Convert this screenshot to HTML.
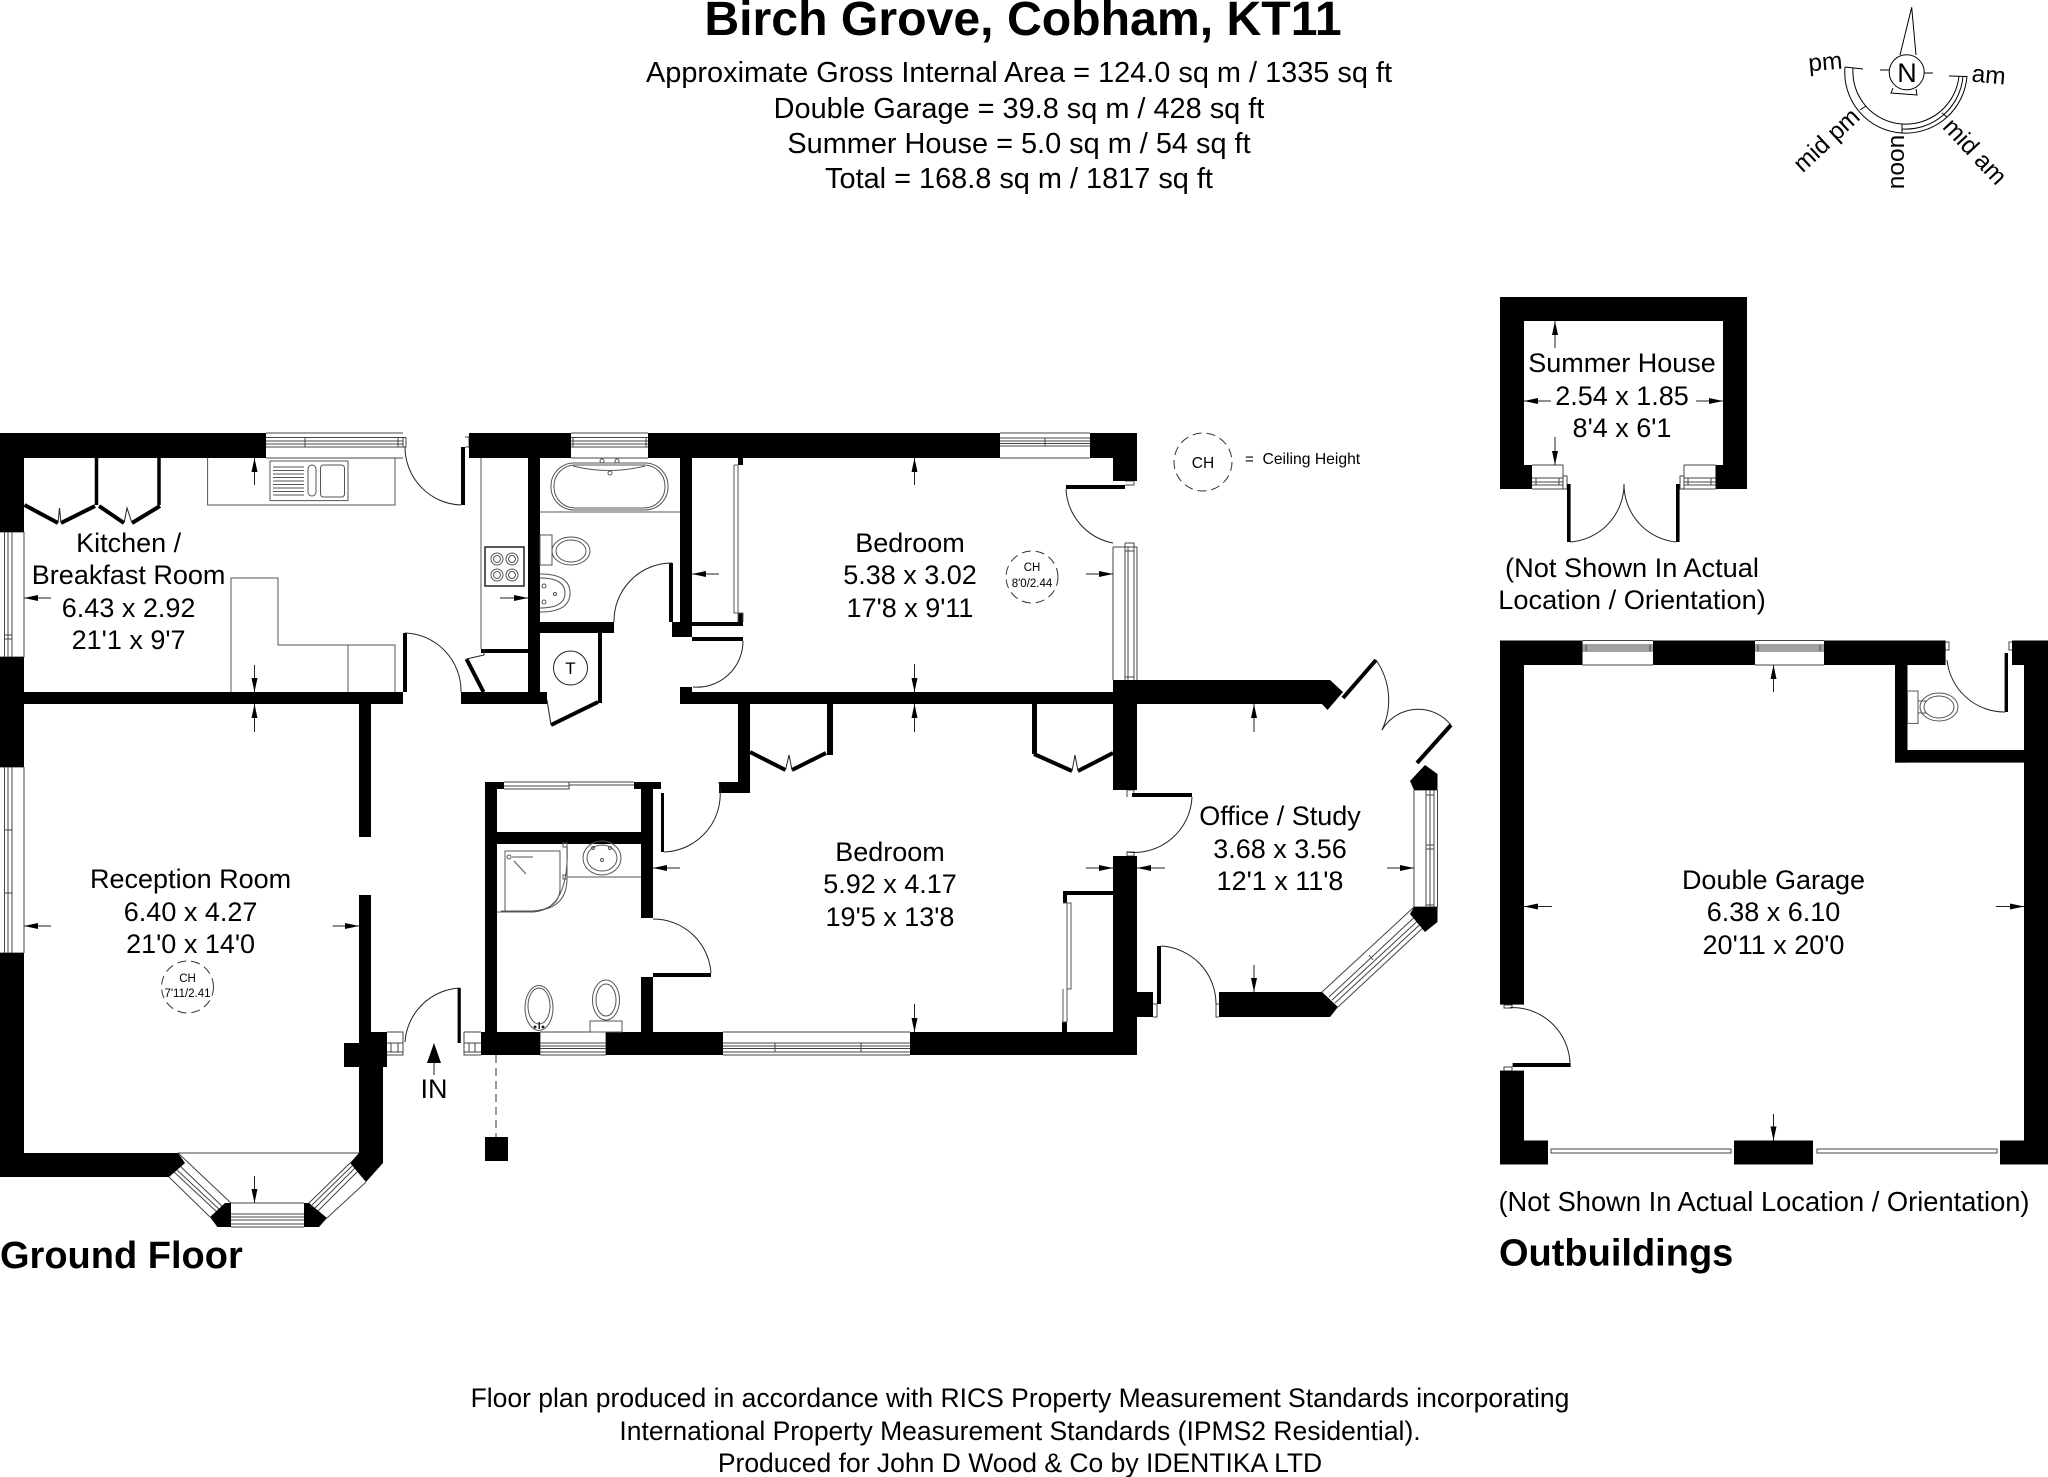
<!DOCTYPE html>
<html lang="en"><head><meta charset="utf-8"><title>Birch Grove, Cobham, KT11</title>
<style>
html,body{margin:0;padding:0;background:#fff}
svg{display:block}
text{font-family:"Liberation Sans",sans-serif;fill:#000}
.m{text-anchor:middle}
.r{font-size:27px;text-anchor:middle}
.f{fill:none;stroke:#444;stroke-width:1}
.t{fill:none;stroke:#000;stroke-width:1}
.l{stroke:#000;stroke-width:4;fill:none}
.a{stroke:#222;stroke-width:1;fill:none}
.w{fill:#fff;stroke:#555;stroke-width:1}
</style></head><body>
<svg width="2048" height="1477" viewBox="0 0 2048 1477" xmlns="http://www.w3.org/2000/svg">
<defs>
<marker id="h" viewBox="0 0 14 6" refX="14" refY="3" markerWidth="14" markerHeight="6" markerUnits="userSpaceOnUse" orient="auto"><path d="M0 0L14 3L0 6Z" fill="#000"/></marker>
</defs>
<rect width="2048" height="1477" fill="#fff"/>

<!-- heading -->
<text class="m" x="1023" y="35" font-size="48.200" font-weight="700">Birch Grove, Cobham, KT11</text>
<text class="m" x="1019" y="82" font-size="28.900">Approximate Gross Internal Area = 124.0 sq m / 1335 sq ft</text>
<text class="m" x="1019" y="118" font-size="28.900">Double Garage = 39.8 sq m / 428 sq ft</text>
<text class="m" x="1019" y="153" font-size="28.900">Summer House = 5.0 sq m / 54 sq ft</text>
<text class="m" x="1019" y="188" font-size="28.900">Total = 168.8 sq m / 1817 sq ft</text>

<!-- compass -->
<g class="t" stroke-width="1">
<path d="M1900 55L1911.7 7.3L1916 55"/>
<circle cx="1906.7" cy="72.3" r="17.5"/>
<path d="M1880 70H1889M1924 73H1933M1893 88L1891 93L1917 95L1916 89"/>
<path d="M1845 67A60.7 60.7 0 0 0 1902 133M1853 68A52.5 52.5 0 0 0 1902 124"/>
<path d="M1967 76A61.5 61.5 0 0 1 1902 133M1963 76A57.5 57.5 0 0 1 1902 129M1959 76A53.5 53.5 0 0 1 1902 124"/>
<path d="M1845 67L1863 69M1949 76L1967 76.500M1860 110L1866 106M1942 113L1947 117M1902 124V133"/>
</g>
<text x="1809" y="70" font-size="24.500" transform="rotate(-5 1825 70)">pm</text>
<text x="1971" y="83" font-size="24.500" transform="rotate(5 1988 83)">am</text>
<text class="m" x="1832" y="146" font-size="24.500" transform="rotate(-43 1832 146)">mid pm</text>
<text class="m" x="1904" y="162" font-size="24.500" transform="rotate(-90 1904 162)">noon</text>
<text class="m" x="1969" y="157" font-size="24.500" transform="rotate(47 1969 157)">mid am</text>
<text class="m" x="1907" y="82" font-size="27">N</text>

<!-- WINDOWS (under walls) -->
<g class="f">
<path d="M266 433H403M266 437.500H403M266 441H403M266 444H403M266 447H403M266 458H403M305 437.500V447M398 437V447M403 437.500H406V447H403"/>
<path d="M571 433H648M571 437.500H648M571 441H648M571 444H648M571 447H648M571 458H648M573 437.500V447M646 437.500V447"/>
<path d="M1000 433H1090M1000 438H1090M1000 441H1090M1000 443.500H1090M1000 446H1090M1000 458H1090M1045 438V446"/>
<path d="M540 1032H606M540 1043H606M540 1046H606M540 1048.500H606M540 1052H606M540 1055H606M540 1032V1055M606 1032V1055"/>
<path d="M723 1032H910M723 1043H910M723 1046H910M723 1048.500H910M723 1052H910M723 1055H910M775 1043V1052M861 1043V1052"/>
<path d="M231 1203H304M231 1214H304M231 1217H304M231 1220H304M231 1224H304M231 1227H304"/>
<path d="M0 532H24V657H0M4.500 532V657M8 532V657M12 532V657M4.500 635H12M4.500 639H12"/>
<path d="M24 767V953M0 767H24M0 953H24M4.500 767V953M8 767V953M12 767V953M4.500 830H12M4.500 893H12"/>
<path d="M1113 547V680M1125 547V680M1128 547V680M1134 547V680M1137 547V680M1125 547H1137M1113 547H1125M1125 551H1134M1125 677H1134M1125 543H1134V547M1125 543V547"/>
<path d="M1414 790V907M1426 790V907M1430 790V907M1434 790V907M1437.500 790V907M1414 790H1437.500M1414 907H1437.500M1426 905H1434M1426 795H1434M1426 845H1434M1426 849H1434"/>
<path d="M178 1153L231 1203M169 1177L210 1217M173 1171L218 1213M176 1169L221 1211M180 1166L224 1208"/>
<path d="M178 1153H359M350 1163L309 1203M366 1182L327 1218M358 1171L318 1211M355 1168L315 1208M352 1166L312 1205"/>
<path d="M1322 992L1414 907M1338 1007L1426 925M1332 1000L1424 915M1329 997L1420 912M1335 1003L1427 918M1369 955L1373 960"/>
<path d="M387 1032H403V1055H387M387 1043H403M387 1052H403M391 1043V1052M398 1043V1052"/>
<path d="M464 1032H481M464 1032V1055H481M464 1043H481M464 1052H481M469 1043V1052M475 1043V1052"/>
<path d="M504 782H634M504 789H569V785H634M504 786H569M569 782V789"/>
<path d="M1582.500 640.500H1653M1582.500 645H1653M1582.500 647H1653M1582.500 649H1653M1582.500 651H1653M1582.500 665H1653M1586 645V651M1650 645V651"/>
<path d="M1755 640.500H1824M1755 645H1824M1755 647H1824M1755 649H1824M1755 651H1824M1755 665H1824M1758 645V651M1820 645V651"/>
<path d="M1532 465H1563V489H1532M1532 478H1563M1532 482H1563M1532 485H1563M1536 478V485M1559 478V485M1563 476H1567V489H1563"/>
<path d="M1684 465H1715.500M1684 465V489H1715.500M1684 478H1715.500M1684 482H1715.500M1684 485H1715.500M1688 478V485M1711 478V485M1684 476H1680V489H1684"/>
<path d="M403 437V447M465 437H469V447H465"/>
</g>
<g fill="none" stroke="#444" stroke-width="1">
<path d="M1551 1149H1731V1153H1551ZM1817 1149H1997V1153H1817Z"/>
<path d="M1945.600 642H1949V650H1945.600M2012 642H2009V650H2012"/>
<path d="M1504 1005H1512V1008H1504ZM1504 1067H1512V1071H1504Z"/>
<path d="M1125 481H1134V485H1125M1127 790H1134V797M1127 790V797M1127 852H1134V856H1127Z"/>
<path d="M1153 1004H1157V1017H1153M1219 1004H1216V1017H1219"/>
</g>

<!-- WALLS -->
<g fill="#000">
<rect x="0" y="433" width="266" height="25"/><rect x="469" y="433" width="102" height="25"/><rect x="648" y="433" width="352" height="25"/><rect x="1090" y="433" width="47" height="25"/><rect x="1113" y="458" width="24" height="23"/>
<rect x="0" y="458" width="24" height="74"/><rect x="0" y="657" width="24" height="110"/><rect x="0" y="953" width="24" height="224"/>
<rect x="0" y="692" width="403" height="12"/>
<rect x="359" y="704" width="12" height="133"/><rect x="359" y="895" width="12" height="137"/><rect x="359" y="1032" width="28" height="11"/><rect x="344" y="1043" width="43" height="24"/><rect x="359" y="1067" width="24" height="96"/>
<polygon points="0,1153 178,1153 185,1163 169,1177 0,1177"/>
<polygon points="225,1203 231,1203 231,1227 217.400,1227 210,1217"/>
<polygon points="304,1203 309,1203 327,1218 319,1227 304,1227"/>
<polygon points="350,1163 359,1153 371,1153 383,1153 383,1163 366,1182"/>
<rect x="461" y="692" width="86" height="12"/><rect x="528" y="458" width="12" height="234"/><rect x="540" y="622" width="74" height="11"/><rect x="598" y="633" width="4" height="70"/>
<rect x="680" y="458" width="12" height="179"/><rect x="672" y="622" width="8" height="15"/><rect x="669" y="563" width="4" height="59"/>
<rect x="692" y="622" width="51" height="4"/><rect x="738" y="458" width="5" height="7"/><rect x="738" y="613" width="5" height="9"/><rect x="692" y="637" width="51" height="4"/>
<rect x="680" y="687" width="12" height="5"/><rect x="680" y="692" width="433" height="12"/>
<polygon points="1113,680 1330,680 1343,692 1327.500,710 1322,704 1113,704"/>
<rect x="1113" y="704" width="24" height="86"/>
<rect x="738" y="704" width="12" height="78"/><rect x="719" y="782" width="31" height="11"/><rect x="827" y="704" width="6" height="51"/><rect x="1032" y="704" width="5" height="50"/>
<rect x="485" y="782" width="12" height="250"/><rect x="485" y="782" width="19" height="7"/><rect x="634" y="782" width="27" height="7"/><rect x="641" y="789" width="12" height="129"/><rect x="497" y="832" width="144" height="12"/><rect x="641" y="977" width="12" height="55"/><rect x="653" y="973" width="58" height="4"/><rect x="661" y="793" width="3" height="59"/>
<rect x="481" y="1032" width="59" height="23"/><rect x="606" y="1032" width="117" height="23"/><rect x="910" y="1032" width="227" height="23"/>
<rect x="1113" y="856" width="24" height="176"/><rect x="1137" y="992" width="16" height="25"/><rect x="1157" y="946" width="4" height="58"/>
<polygon points="1219,992 1322,992 1338,1007 1330,1017 1219,1017"/>
<polygon points="1414,907 1437.500,907 1437.500,922 1425,932 1410,914"/>
<polygon points="1425,765 1437.500,774 1437.500,790 1414,790 1410,781"/>
<rect x="1066" y="485" width="59" height="4"/><rect x="1132" y="793" width="60" height="4"/>
<rect x="1063" y="891" width="50" height="4"/><rect x="1063" y="891" width="4" height="12"/><rect x="1062" y="1022" width="5" height="10"/>
<rect x="481" y="649" width="47" height="4"/><rect x="461" y="447" width="4" height="58"/><rect x="403" y="633" width="4" height="59"/>
<rect x="457.600" y="988" width="3.200" height="55"/>
<rect x="485" y="1137" width="23" height="24"/>
<!-- summer house -->
<path d="M1500 297H1747V489H1715.500V465H1723V321H1524V465H1532V489H1500Z"/>
<rect x="1567" y="484" width="3.600" height="58"/><rect x="1676" y="484" width="3.600" height="58"/>
<!-- garage -->
<rect x="1500" y="640.500" width="82.500" height="24.500"/><rect x="1653" y="640.500" width="102" height="24.500"/><rect x="1824" y="640.500" width="121.600" height="24.500"/><rect x="2012" y="640.500" width="36" height="24.500"/>
<rect x="2024" y="665" width="24" height="499.500"/><rect x="1500" y="665" width="24" height="339.600"/><rect x="1500" y="1070.600" width="24" height="70"/>
<rect x="1500" y="1140.500" width="48" height="24"/><rect x="1734" y="1140.500" width="79" height="24"/><rect x="2000" y="1140.500" width="48" height="24"/>
<rect x="1895" y="665" width="12.500" height="97.600"/><rect x="1895" y="750" width="129" height="12.600"/>
<rect x="2004.600" y="653" width="3.400" height="59"/><rect x="1512.600" y="1063" width="58" height="4"/>
</g>

<!-- DOOR LEAVES thick -->
<g class="l">
<path d="M24.500 505L58 523M61 523L95 506M99 506L124 523M132 523L160 506"/>
<path d="M96.500 458V505M159 458V505" stroke-width="3.500"/>
<path d="M466.500 659L483.500 692M551 725L598 702M750 752L785.500 770M792 770L826 753M1034 754L1072 771M1078 771L1113 753M1343 698L1376 660M1417 763L1451 725"/>
</g>
<!-- door arcs -->
<g class="a">
<path d="M405 447A58 58 0 0 0 461 505"/><path d="M405 633A58 58 0 0 1 461 692"/>
<path d="M672 563A58 58 0 0 0 614 622"/><path d="M743 641A46 46 0 0 1 693 687"/>
<path d="M1066 489A58 58 0 0 0 1113 543"/><path d="M1192 797A58 58 0 0 1 1127 852"/>
<path d="M664 852A58 58 0 0 0 719 782"/><path d="M653 919A58 58 0 0 1 711 973"/>
<path d="M460 988A58 58 0 0 0 405 1042"/><path d="M1161 946A58 58 0 0 1 1216 1004"/>
<path d="M1376 660A70 70 0 0 1 1382 730"/><path d="M1451 725A42 42 0 0 0 1382 730"/>
<path d="M1570 542A58 58 0 0 0 1624 484"/><path d="M1676 542A58 58 0 0 1 1624 484"/>
<path d="M2005 712A58 58 0 0 1 1947 660"/><path d="M1570 1063A58 58 0 0 0 1510 1007.500"/>
<path d="M547 700L551 725M466.500 659L484 655L484 649"/>
<path d="M58 523L59.500 508L61 523M124 523L127 508L132 523"/>
<path d="M785.500 770L789 755L792 770M1072 771L1075 755L1078 771"/>
</g>

<!-- FIXTURES -->
<g fill="none" stroke="#555" stroke-width="1">
<path d="M207.600 458V505H395V458"/>
<rect x="270" y="461" width="78" height="39.600"/>
<path d="M273 467H304M273 470.500H304M273 474H304M273 477.500H304M273 481H304M273 484.500H304M273 488H304M273 491.500H304M273 495H304"/>
<rect x="308" y="465" width="8" height="31" rx="4"/><rect x="320.500" y="465" width="24" height="32" rx="3"/>
<path d="M481 458V649"/>
<rect x="485" y="547" width="39" height="39" stroke-width="1.500" stroke="#222"/>
<circle cx="497" cy="559" r="6"/><circle cx="512" cy="559" r="6"/><circle cx="497" cy="575" r="6"/><circle cx="512" cy="575" r="6"/>
<circle cx="497" cy="559" r="3.500"/><circle cx="512" cy="559" r="3.500"/><circle cx="497" cy="575" r="3.500"/><circle cx="512" cy="575" r="3.500"/>
<path d="M231 692V578H278V645H395V692M348 645V692"/>
<path d="M540 512H680"/>
<rect x="551" y="463" width="117" height="47" rx="23"/><rect x="554" y="465" width="111" height="43" rx="21"/>
<path d="M573 466Q609 475 645 466"/><circle cx="602" cy="461" r="2"/><circle cx="617" cy="461" r="2"/><circle cx="610" cy="473" r="2"/>
<rect x="540" y="535" width="12" height="30"/>
<ellipse cx="571" cy="551" rx="19" ry="14"/><ellipse cx="571" cy="551" rx="15" ry="11"/>
<path d="M540 574Q570 574 570 593Q570 612 540 612"/><path d="M540 578Q565 578 565 593Q565 608 540 608"/>
<circle cx="544" cy="586" r="2"/><circle cx="544" cy="602" r="2"/><circle cx="555" cy="594" r="1.500"/>
<path d="M505 851H560V890Q558 912 525 911H505ZM501 911H532Q566 910 567 880V844M497 912H533Q570 910 567 844"/>
<circle cx="509" cy="857" r="2"/><path d="M512 857H533M514 861L526 874"/>
<ellipse cx="602" cy="858" rx="19" ry="17"/><ellipse cx="602" cy="858" rx="15" ry="13"/><circle cx="593" cy="848" r="1.500"/><circle cx="610" cy="848" r="1.500"/><circle cx="602" cy="860" r="1.500"/>
<path d="M567 877H641"/><rect x="563" y="843" width="4" height="4"/><rect x="563" y="875" width="4" height="4"/>
<ellipse cx="539" cy="1008" rx="14" ry="22.500"/><ellipse cx="539" cy="1006" rx="11" ry="18"/>
<ellipse cx="606" cy="1000" rx="13.500" ry="20"/><ellipse cx="606" cy="1000" rx="10" ry="16"/>
<rect x="590" y="1021" width="32" height="11"/>
<path d="M734 465H738V613M734 465V613H738M738 613H743V622M738 613V622"/>
<path d="M1067 903H1071V989H1067V1022M1063 903H1067V989M1063 989V1022H1067"/>
<rect x="1907.500" y="691" width="10.500" height="32.400"/>
<ellipse cx="1939" cy="707" rx="19" ry="14"/><ellipse cx="1939" cy="707" rx="15" ry="11"/>
<path d="M1918 701H1926M1918 713H1926"/>
</g>
<circle cx="570.500" cy="668" r="17" fill="none" stroke="#222"/>
<text class="m" x="570.500" y="674" font-size="17">T</text>
<g fill="#222"><circle cx="535" cy="1027" r="1.500"/><circle cx="543" cy="1027" r="1.500"/><rect x="538.500" y="1022" width="1.500" height="7"/></g>

<!-- ARROWS -->
<g class="a">
<line x1="254.500" y1="485" x2="254.500" y2="458" marker-end="url(#h)"/>
<line x1="254.500" y1="665" x2="254.500" y2="692" marker-end="url(#h)"/>
<line x1="254.500" y1="732" x2="254.500" y2="704" marker-end="url(#h)"/>
<line x1="51" y1="598" x2="24" y2="598" marker-end="url(#h)"/>
<line x1="500" y1="598" x2="528" y2="598" marker-end="url(#h)"/>
<line x1="914.500" y1="485" x2="914.500" y2="458" marker-end="url(#h)"/>
<line x1="914.500" y1="664" x2="914.500" y2="692" marker-end="url(#h)"/>
<line x1="914.500" y1="732" x2="914.500" y2="704" marker-end="url(#h)"/>
<line x1="719" y1="574" x2="692" y2="574" marker-end="url(#h)"/>
<line x1="1086" y1="574" x2="1113" y2="574" marker-end="url(#h)"/>
<line x1="1254" y1="732" x2="1254" y2="704" marker-end="url(#h)"/>
<line x1="51" y1="926" x2="24" y2="926" marker-end="url(#h)"/>
<line x1="332.600" y1="926" x2="359" y2="926" marker-end="url(#h)"/>
<line x1="254.500" y1="1176" x2="254.500" y2="1203" marker-end="url(#h)"/>
<line x1="680" y1="868" x2="653" y2="868" marker-end="url(#h)"/>
<line x1="1086" y1="868" x2="1113" y2="868" marker-end="url(#h)"/>
<line x1="914.500" y1="1004" x2="914.500" y2="1032" marker-end="url(#h)"/>
<line x1="1165" y1="868" x2="1137" y2="868" marker-end="url(#h)"/>
<line x1="1387" y1="868" x2="1414" y2="868" marker-end="url(#h)"/>
<line x1="1254" y1="965" x2="1254" y2="992" marker-end="url(#h)"/>
<line x1="1555" y1="348" x2="1555" y2="321" marker-end="url(#h)"/>
<line x1="1555" y1="437" x2="1555" y2="465" marker-end="url(#h)"/>
<line x1="1551" y1="401" x2="1524" y2="401" marker-end="url(#h)"/>
<line x1="1696" y1="401" x2="1723" y2="401" marker-end="url(#h)"/>
<line x1="1773.500" y1="692" x2="1773.500" y2="665" marker-end="url(#h)"/>
<line x1="1552" y1="906.500" x2="1524" y2="906.500" marker-end="url(#h)"/>
<line x1="1996" y1="906.500" x2="2024" y2="906.500" marker-end="url(#h)"/>
<line x1="1773.500" y1="1114" x2="1773.500" y2="1140.500" marker-end="url(#h)"/>
</g>
<!-- IN arrow -->
<path d="M434 1043L441 1063H427Z" fill="#000"/><path d="M434 1063V1075" stroke="#222" fill="none"/>
<text class="m" x="434" y="1098" font-size="27">IN</text>
<!-- pipe -->
<path d="M496 1055V1137" stroke="#333" stroke-dasharray="8 5" fill="none"/>

<!-- CH circles -->
<g fill="none" stroke="#333" stroke-dasharray="9 5">
<circle cx="187.500" cy="987" r="26"/><circle cx="1032" cy="577" r="26"/><circle cx="1203" cy="462" r="29"/>
</g>
<text class="m" x="187.500" y="982" font-size="11.500">CH</text><text class="m" x="187.500" y="997" font-size="11.500">7'11/2.41</text>
<text class="m" x="1032" y="571" font-size="11.500">CH</text><text class="m" x="1032" y="587" font-size="11.500">8'0/2.44</text>
<text class="m" x="1203" y="468" font-size="15.500">CH</text>
<text x="1245" y="464" font-size="15">=</text>
<text x="1262.500" y="464" font-size="15.700">Ceiling Height</text>

<!-- ROOM LABELS -->
<text class="r" x="128.600" y="552">Kitchen /</text><text class="r" x="128.600" y="584">Breakfast Room</text><text class="r" x="128.600" y="617">6.43 x 2.92</text><text class="r" x="128.600" y="649">21'1 x 9'7</text>
<text class="r" x="190.600" y="888">Reception Room</text><text class="r" x="190.600" y="921">6.40 x 4.27</text><text class="r" x="190.600" y="953">21'0 x 14'0</text>
<text class="r" x="910" y="552">Bedroom</text><text class="r" x="910" y="584">5.38 x 3.02</text><text class="r" x="910" y="617">17'8 x 9'11</text>
<text class="r" x="890" y="861">Bedroom</text><text class="r" x="890" y="893">5.92 x 4.17</text><text class="r" x="890" y="926">19'5 x 13'8</text>
<text class="r" x="1280" y="825">Office / Study</text><text class="r" x="1280" y="858">3.68 x 3.56</text><text class="r" x="1280" y="890">12'1 x 11'8</text>
<text class="r" x="1622" y="372">Summer House</text><text class="r" x="1622" y="405">2.54 x 1.85</text><text class="r" x="1622" y="437">8'4 x 6'1</text>
<text class="m" x="1632" y="577" font-size="27.200">(Not Shown In Actual</text><text class="m" x="1632" y="609" font-size="27.200">Location / Orientation)</text>
<text class="r" x="1773.500" y="889">Double Garage</text><text class="r" x="1773.500" y="921">6.38 x 6.10</text><text class="r" x="1773.500" y="954">20'11 x 20'0</text>
<text class="m" x="1764" y="1211" font-size="27.300">(Not Shown In Actual Location / Orientation)</text>
<text x="0" y="1268" font-size="38" font-weight="700">Ground Floor</text>
<text x="1499" y="1265.500" font-size="38" font-weight="700">Outbuildings</text>

<!-- FOOTER -->
<text class="m" x="1020" y="1407" font-size="26.500">Floor plan produced in accordance with RICS Property Measurement Standards incorporating</text>
<text class="m" x="1020" y="1440" font-size="26.500">International Property Measurement Standards (IPMS2 Residential).</text>
<text class="m" x="1020" y="1472" font-size="26.500">Produced for John D Wood &amp; Co by IDENTIKA LTD</text>
</svg>
</body></html>
